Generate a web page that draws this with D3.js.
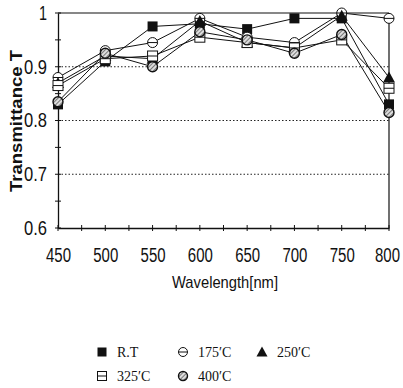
<!DOCTYPE html>
<html>
<head>
<meta charset="utf-8">
<script src="https://cdn.jsdelivr.net/npm/d3@7"></script>
<style>
  body { margin: 0; background: #fff; }
  svg { display: block; }
</style>
</head>
<body>
<svg id="chart" width="403" height="388"></svg>
<script>
// data
const wavelengths = [450, 500, 550, 600, 650, 700, 750, 800];
const rt     = [0.83, 0.91, 0.975, 0.98, 0.97, 0.99, 0.99, 0.83];
const t175   = [0.88, 0.93, 0.945, 0.99, 0.955, 0.945, 1.0, 0.99];
const t250   = [0.87, 0.92, 0.915, 0.985, 0.945, 0.935, 0.995, 0.88];
const t325   = [0.865, 0.915, 0.92, 0.955, 0.945, 0.935, 0.95, 0.86];
const t400   = [0.835, 0.925, 0.90, 0.965, 0.95, 0.925, 0.96, 0.815];
const yTicks = [0.6, 0.7, 0.8, 0.9, 1];
const seriesNames = ['R.T', '175\u2032C', '250\u2032C', '325\u2032C', '400\u2032C'];
const seriesSymbols = ['fsquare', 'ocircle', 'triangle', 'osquare', 'hcircle'];

const series = [rt, t175, t250, t325, t400].map((vals, i) => ({
  name: seriesNames[i],
  symbol: seriesSymbols[i],
  values: vals.map((v, j) => ({ x: wavelengths[j], y: v }))
}));

const svg = d3.select('#chart');
const sans = 'Liberation Sans, Arial, sans-serif';

// hatch pattern for the 400 degree marker
const defs = svg.append('defs');
const pat = defs.append('pattern')
  .attr('id', 'hatch')
  .attr('patternUnits', 'userSpaceOnUse')
  .attr('width', 3).attr('height', 3)
  .attr('patternTransform', 'rotate(45)');
pat.append('rect').attr('width', 3).attr('height', 3).attr('fill', '#ddd');
pat.append('line').attr('x1', 0).attr('y1', 0).attr('x2', 0).attr('y2', 3)
  .attr('stroke', '#333').attr('stroke-width', 1.2);

const plotLeft = 58, plotRight = 389, plotTop = 13, plotBottom = 228;

const x = d3.scaleLinear().domain([450, 800]).range([plotLeft, plotRight]);
const y = d3.scaleLinear().domain([0.6, 1]).range([plotBottom, plotTop]);

// dotted grid lines
svg.append('g')
  .selectAll('line')
  .data([0.7, 0.8, 0.9])
  .enter()
  .append('line')
  .attr('x1', plotLeft).attr('x2', plotRight)
  .attr('y1', d => y(d)).attr('y2', d => y(d))
  .attr('stroke', '#222')
  .attr('stroke-width', 1)
  .attr('stroke-dasharray', '1.5,2');

// frame top / right
svg.append('line')
  .attr('x1', plotLeft).attr('x2', plotRight).attr('y1', y(1)).attr('y2', y(1))
  .attr('stroke', '#111').attr('stroke-width', 1.2);
svg.append('line')
  .attr('x1', plotRight).attr('x2', plotRight).attr('y1', y(1)).attr('y2', y(0.6))
  .attr('stroke', '#111').attr('stroke-width', 1.2);

// x axis
const xAxis = d3.axisBottom(x)
  .tickValues(wavelengths)
  .tickSize(0)
  .tickPadding(20);
const gx = svg.append('g')
  .attr('transform', `translate(0,${plotBottom})`)
  .call(xAxis);
gx.select('.domain').attr('stroke', '#111').attr('stroke-width', 1.3);
gx.selectAll('text')
  .attr('font-family', sans)
  .attr('font-size', 20)
  .attr('textLength', 25)
  .attr('lengthAdjust', 'spacingAndGlyphs')
  .attr('dx', d => d === 800 ? -2 : 0)
  .attr('fill', '#111');
gx.selectAll('.minor')
  .data(d3.range(450, 801, 25))
  .enter()
  .append('line')
  .attr('class', 'minor')
  .attr('x1', d => x(d)).attr('x2', d => x(d))
  .attr('y1', -3).attr('y2', 3)
  .attr('stroke', '#111');

// y axis
const yAxis = d3.axisLeft(y)
  .tickValues(yTicks)
  .tickSize(0)
  .tickPadding(11)
  .tickFormat(d => d === 1 ? '1' : d3.format('.1f')(d));
const gy = svg.append('g')
  .attr('transform', `translate(${plotLeft},0)`)
  .call(yAxis);
gy.select('.domain').attr('stroke', '#111').attr('stroke-width', 1.3);
gy.selectAll('text')
  .attr('font-family', sans)
  .attr('font-size', 20)
  .attr('textLength', d => d === 1 ? 8 : 23)
  .attr('lengthAdjust', 'spacingAndGlyphs')
  .attr('fill', '#111');
gy.selectAll('.minor')
  .data(d3.range(0.6, 1.001, 0.05))
  .enter()
  .append('line')
  .attr('class', 'minor')
  .attr('y1', d => y(d)).attr('y2', d => y(d))
  .attr('x1', -3).attr('x2', 3)
  .attr('stroke', '#111');

// axis titles
svg.append('text')
  .attr('x', 225)
  .attr('y', 288)
  .attr('text-anchor', 'middle')
  .attr('font-family', sans)
  .attr('font-size', 17)
  .attr('textLength', 106)
  .attr('lengthAdjust', 'spacingAndGlyphs')
  .attr('fill', '#111')
  .text('Wavelength[nm]');

svg.append('text')
  .attr('transform', 'translate(22,121) rotate(-90)')
  .attr('text-anchor', 'middle')
  .attr('font-family', sans)
  .attr('font-size', 17)
  .attr('font-weight', 'bold')
  .attr('textLength', 142)
  .attr('lengthAdjust', 'spacingAndGlyphs')
  .attr('fill', '#111')
  .text('Transmittance T');

// lines
const line = d3.line().x(d => x(d.x)).y(d => y(d.y));
svg.append('g')
  .selectAll('path')
  .data(series)
  .enter()
  .append('path')
  .attr('d', d => line(d.values))
  .attr('fill', 'none')
  .attr('stroke', '#111')
  .attr('stroke-width', 1);

// marker drawing
function drawMarker(g, symbol, size) {
  const h = size / 2;
  if (symbol === 'fsquare') {
    g.append('rect').attr('x', -h).attr('y', -h).attr('width', size).attr('height', size)
      .attr('fill', '#111');
  } else if (symbol === 'osquare') {
    g.append('rect').attr('x', -h).attr('y', -h).attr('width', size).attr('height', size)
      .attr('fill', '#fff').attr('stroke', '#111').attr('stroke-width', 1);
    g.append('line').attr('x1', -h).attr('x2', h).attr('y1', 0).attr('y2', 0)
      .attr('stroke', '#111');
  } else if (symbol === 'ocircle') {
    g.append('circle').attr('r', h)
      .attr('fill', '#fff').attr('stroke', '#111').attr('stroke-width', 1);
    g.append('line').attr('x1', -h).attr('x2', h).attr('y1', 0).attr('y2', 0)
      .attr('stroke', '#111');
  } else if (symbol === 'triangle') {
    g.append('path')
      .attr('d', `M0,${-h - 1}L${h + 1},${h}L${-h - 1},${h}Z`)
      .attr('fill', '#111');
  } else if (symbol === 'hcircle') {
    g.append('circle').attr('r', h)
      .attr('fill', 'url(#hatch)').attr('stroke', '#111').attr('stroke-width', 1.4);
  }
}

// markers, drawn in series order
series.forEach(s => {
  svg.append('g')
    .selectAll('g')
    .data(s.values)
    .enter()
    .append('g')
    .attr('transform', d => `translate(${x(d.x)},${y(d.y)})`)
    .each(function () { drawMarker(d3.select(this), s.symbol, 10); });
});

// legend
const legendPos = [
  { x: 102, y: 352 }, { x: 183, y: 352 }, { x: 262, y: 352 },
  { x: 102, y: 376 }, { x: 183, y: 376 }
];
series.forEach((s, i) => {
  const g = svg.append('g')
    .attr('transform', `translate(${legendPos[i].x},${legendPos[i].y})`);
  drawMarker(g, s.symbol, 9);
  g.append('text')
    .attr('x', 15)
    .attr('y', 5)
    .attr('font-family', 'Liberation Serif, Times New Roman, serif')
    .attr('font-size', 14)
    .attr('fill', '#111')
    .text(s.name);
});
</script>
</body>
</html>
